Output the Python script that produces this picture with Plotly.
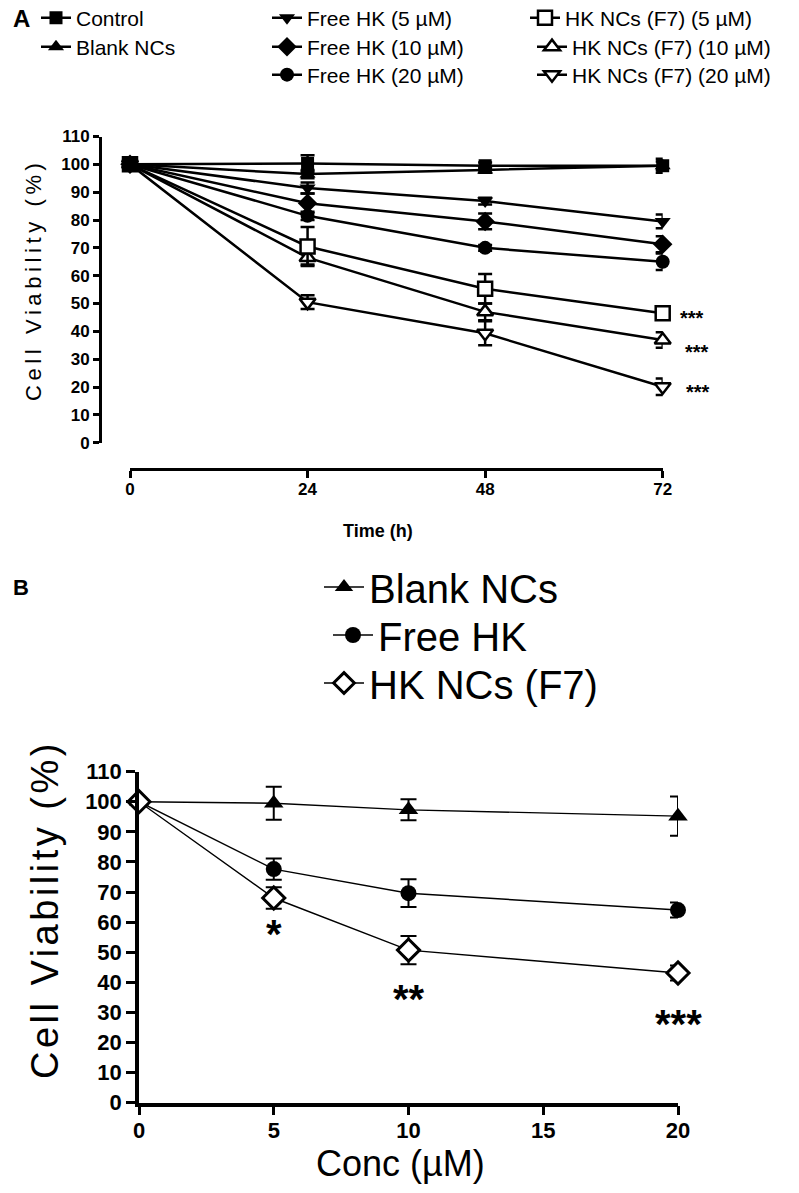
import plotly.graph_objects as go

W, H = 799, 1193
FONT = "Arial, Liberation Sans, sans-serif"

# ---------------- Panel A data ----------------
time_h = [0, 24, 48, 72]
a_names = ["Control", "Blank NCs", "Free HK (5 µM)", "Free HK (10 µM)", "Free HK (20 µM)",
           "HK NCs (F7) (5 µM)", "HK NCs (F7) (10 µM)", "HK NCs (F7) (20 µM)"]
control = [100, 100.3, 99.5, 99.5]
control_err = [1.5, 3.0, 1.2, 2.5]
blank = [100, 96.5, 98.0, 99.5]
blank_err = [1.0, 1.5, 1.0, 1.5]
free5 = [100, 91.5, 86.8, 79.5]
free5_err = [1.0, 2.0, 1.2, 2.5]
free10 = [100, 86.0, 79.5, 71.3]
free10_err = [1.0, 3.5, 2.8, 2.9]
free20 = [100, 81.5, 70.0, 65.0]
free20_err = [1.0, 1.5, 1.0, 3.0]
nc5 = [100, 70.5, 55.3, 46.5]
nc5_err = [1.0, 7.0, 5.3, 2.0]
nc10 = [100, 66.5, 47.0, 36.9]
nc10_err = [1.0, 2.5, 3.0, 2.8]
nc20 = [100, 50.5, 39.3, 20.1]
nc20_err = [1.0, 2.5, 4.3, 3.0]
a_ticks_y = list(range(0, 111, 10))
a_sig = ["***", "***", "***"]

# ---------------- Panel B data ----------------
conc = [0, 5, 10, 20]
b_names = ["Blank NCs", "Free HK", "HK NCs (F7)"]
b_blank = [100, 99.5, 97.3, 95.2]
b_blank_err = [0.8, 5.5, 3.5, 6.5]
b_free = [100, 77.6, 69.6, 64.0]
b_free_err = [0.5, 3.5, 4.6, 2.5]
b_nc = [100, 68.0, 50.7, 43.1]
b_nc_err = [0.5, 3.6, 4.7, 2.5]
b_ticks_x = [0, 5, 10, 15, 20]
b_sig = ["*", "**", "***"]
b_sig_y = [59, 37.4, 29.1]


def px_x(p):
    return p / W


def px_y(p):
    return 1 - p / H


fig = go.Figure()

# ---- Panel A traces ----
a_means = [control, blank, free5, free10, free20, nc5, nc10, nc20]
a_errs = [control_err, blank_err, free5_err, free10_err, free20_err, nc5_err, nc10_err, nc20_err]
a_sym = ["square", "triangle-up", "triangle-down", "diamond", "circle", "square", "triangle-up", "triangle-down"]
a_open = [False, False, False, False, False, True, True, True]
a_size = [13, 14, 14, 15, 14, 14, 14, 14]
# legend placement (legend left x, text centre y) in pixels
a_leg_pos = [(36, 18), (36, 47), (267, 18), (267, 47), (267, 75), (525, 18), (532, 47), (532, 75)]

leg_layouts = {}
order = [7, 6, 5, 4, 3, 2, 1, 0]
for i in order:
    lid = "legend" if i == 0 else f"legend{i + 1}"
    fig.add_trace(go.Scatter(
        x=time_h, y=a_means[i], name=a_names[i], mode="lines+markers",
        line=dict(color="black", width=2.5),
        marker=dict(symbol=a_sym[i], size=a_size[i],
                    color="white" if a_open[i] else "black",
                    line=dict(color="black", width=2.5 if a_open[i] else 0)),
        error_y=dict(type="data", array=a_errs[i], color="black", thickness=2.5, width=7),
        xaxis="x", yaxis="y", cliponaxis=False, legend=lid, showlegend=True))
    lx, ty = a_leg_pos[i]
    leg_layouts[lid] = dict(x=px_x(lx), y=px_y(ty), xanchor="left", yanchor="middle",
                            bgcolor="rgba(0,0,0,0)", borderwidth=0, itemwidth=30,
                            font=dict(family=FONT, size=21, color="black"))

# ---- Panel B traces ----
b_means = [b_blank, b_free, b_nc]
b_errs = [b_blank_err, b_free_err, b_nc_err]
b_sym = ["triangle-up", "circle", "diamond"]
b_open = [False, False, True]
b_size = [17, 16, 17]
b_leg_pos = [(319, 587), (328, 635), (319, 683)]
for j in range(3):
    lid = f"legend{9 + j}"
    fig.add_trace(go.Scatter(
        x=conc, y=b_means[j], name=b_names[j], mode="lines+markers",
        line=dict(color="black", width=1.4),
        marker=dict(symbol=b_sym[j], size=b_size[j],
                    color="white" if b_open[j] else "black",
                    line=dict(color="black", width=3 if b_open[j] else 0)),
        error_y=dict(type="data", array=b_errs[j], color="black", thickness=2, width=8),
        xaxis="x2", yaxis="y2", cliponaxis=False, legend=lid, showlegend=True))
    lx, ty = b_leg_pos[j]
    leg_layouts[lid] = dict(x=px_x(lx), y=px_y(ty), xanchor="left", yanchor="middle",
                            bgcolor="rgba(0,0,0,0)", borderwidth=0, itemwidth=40,
                            font=dict(family=FONT, size=40, color="black"))

annotations = []


def paper_text(text, xp, yp, size, angle=0):
    return dict(text=text, x=px_x(xp), y=px_y(yp), xref="paper", yref="paper",
                xanchor="center", yanchor="middle", textangle=angle, showarrow=False,
                font=dict(family=FONT, size=size, color="black"))


# Panel labels
annotations.append(paper_text("<b>A</b>", 21, 18, 24))
annotations.append(paper_text("<b>B</b>", 21, 587, 22))
# Axis titles
annotations.append(paper_text('<span style="letter-spacing:4.6px">Cell Viability (%)</span>', 33, 280, 22, -90))
annotations.append(paper_text("<b>Time (h)</b>", 378, 531, 18))
annotations.append(paper_text('<span style="letter-spacing:3.5px">Cell Viability (%)</span>', 45, 910, 38, -90))
annotations.append(paper_text("Conc (µM)", 400, 1163, 36))
# Significance marks
a_sig_xshift = [29, 34, 35]
a_sig_yshift = [-5, -12, -5]
for k, s in enumerate(a_sig):
    annotations.append(dict(text=f"<b>{s}</b>", x=time_h[-1], y=a_means[5 + k][-1], xref="x", yref="y",
                            xanchor="center", yanchor="middle",
                            xshift=a_sig_xshift[k], yshift=a_sig_yshift[k], showarrow=False,
                            font=dict(family=FONT, size=20, color="black")))
for k, s in enumerate(b_sig):
    annotations.append(dict(text=f"<b>{s}</b>", x=conc[k + 1], y=b_sig_y[k], xref="x2", yref="y2",
                            xanchor="center", yanchor="middle",
                            yshift=-9, showarrow=False,
                            font=dict(family=FONT, size=40, color="black")))

axis_common = dict(showgrid=False, zeroline=False, showline=True, linecolor="black",
                   ticks="outside", tickcolor="black", automargin=False)

fig.update_layout(
    width=W, height=H, margin=dict(l=0, r=0, t=0, b=0, autoexpand=False),
    paper_bgcolor="white", plot_bgcolor="white",
    font=dict(family=FONT, color="black"),
    xaxis=dict(domain=[px_x(130), px_x(662.7)], range=[0, 72], anchor="free", position=px_y(469),
               tickvals=time_h, ticklen=7, tickwidth=3, linewidth=3, ticklabelstandoff=-3,
               tickfont=dict(family=FONT, size=17, color="black", weight="bold"), **axis_common),
    yaxis=dict(domain=[px_y(442.7), px_y(136.5)], range=[0, 110], anchor="free", position=px_x(100),
               tickvals=a_ticks_y, ticklen=6, tickwidth=2.5, linewidth=3,
               tickfont=dict(family=FONT, size=17, color="black", weight="bold"), **axis_common),
    xaxis2=dict(domain=[px_x(139), px_x(678)], range=[0, 20], anchor="y2",
                tickvals=b_ticks_x, ticklen=9, tickwidth=3, linewidth=3.5, ticklabelstandoff=-4,
                tickfont=dict(family=FONT, size=22, color="black", weight="bold"), **axis_common),
    yaxis2=dict(domain=[px_y(1102.7), px_y(771.6)], range=[0, 110], anchor="x2",
                tickvals=list(range(0, 111, 10)), ticklen=9, tickwidth=3, linewidth=3.5,
                tickfont=dict(family=FONT, size=22, color="black", weight="bold"), **axis_common),
    annotations=annotations,
    **leg_layouts,
)

fig.write_html("out.html", config={"displayModeBar": False},
               post_script="document.body.style.margin='0px';")
